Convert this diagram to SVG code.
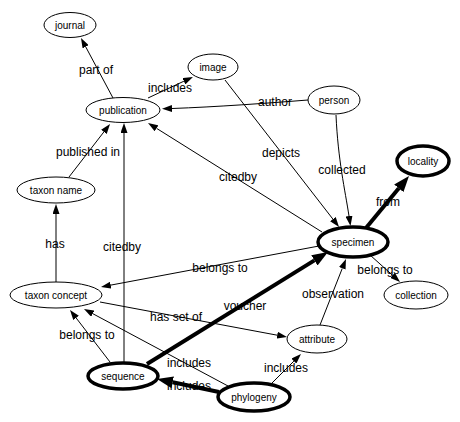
<svg xmlns="http://www.w3.org/2000/svg" width="460" height="422" viewBox="0 0 460 422">
<defs>
<marker id="a" markerUnits="userSpaceOnUse" markerWidth="10" markerHeight="7" refX="0" refY="3.5" orient="auto"><path d="M0,0 L10,3.5 L0,7 z" fill="#000"/></marker>
<marker id="b" markerUnits="userSpaceOnUse" markerWidth="16" markerHeight="12" refX="0" refY="6" orient="auto"><path d="M0,0 L16,6 L0,12 z" fill="#000"/></marker>
</defs>
<style>
.n ellipse{fill:#fff;stroke:#000;stroke-width:1}
.t ellipse{stroke-width:3.5}
.n text{font-family:"Liberation Sans",Arial,sans-serif;font-size:10px;text-anchor:middle;fill:#000}
.e path{fill:none;stroke:#000;stroke-width:1;marker-end:url(#a)}
.e path.k{stroke-width:4;marker-end:url(#b)}
.l text{font-family:"Liberation Sans",Arial,sans-serif;font-size:12px;text-anchor:middle;fill:#000}
</style>
<rect width="460" height="422" fill="#fff"/>
<g id="connectors" class="e">
<path d="M113,98 L85.7,46.8"/>
<path d="M148,98 L183.9,81.2"/>
<path d="M308,100 C270,103 215,107 172,108.5"/>
<path d="M225,80 L332.9,219.1"/>
<path d="M336,115 C338,160 345,190 349,216"/>
<path d="M322,232 L156.5,128.3"/>
<path class="k" d="M366,228 L398.8,188.3"/>
<path d="M370,255 L392.6,275.3"/>
<path d="M320,325 L342.3,268.3"/>
<path d="M69,177 L103.9,131.9"/>
<path d="M56,282 L56,214"/>
<path d="M124,363 L124,133"/>
<path d="M319,246 L110.8,285.1"/>
<path d="M100,302 L277.2,335.2"/>
<path class="k" d="M147,364 L314.4,260.4"/>
<path d="M110,362 L76.1,317.9"/>
<path d="M228,386 L92.8,313.7"/>
<path class="k" d="M219,392 L172.7,382.3"/>
<path d="M272,383 L293.9,361.1"/>
</g>
<g id="edge-labels" class="l">
<text x="96" y="74">part of</text>
<text x="170" y="92">includes</text>
<text x="275" y="106">author</text>
<text x="281" y="157">depicts</text>
<text x="342" y="174">collected</text>
<text x="238" y="181">citedby</text>
<text x="388" y="206">from</text>
<text x="385" y="274">belongs to</text>
<text x="333" y="298">observation</text>
<text x="88" y="156">published in</text>
<text x="55" y="248">has</text>
<text x="122" y="251">citedby</text>
<text x="220" y="272">belongs to</text>
<text x="176" y="321">has set of</text>
<text x="245" y="310">voucher</text>
<text x="87" y="339">belongs to</text>
<text x="189" y="367">includes</text>
<text x="189" y="390">includes</text>
<text x="286" y="372">includes</text>
</g>
<g id="journal" class="n"><ellipse cx="70" cy="25" rx="26" ry="12.5"/><text x="70" y="28.5">journal</text></g>
<g id="publication" class="n"><ellipse cx="123" cy="110" rx="37" ry="12.5"/><text x="123" y="113.5">publication</text></g>
<g id="image" class="n"><ellipse cx="213" cy="67" rx="25" ry="13"/><text x="213" y="70.5">image</text></g>
<g id="person" class="n"><ellipse cx="334" cy="100" rx="26" ry="14"/><text x="334" y="103.5">person</text></g>
<g id="locality" class="n t"><ellipse cx="423" cy="161" rx="26" ry="15"/><text x="423" y="164.5">locality</text></g>
<g id="specimen" class="n t"><ellipse cx="353" cy="242" rx="35" ry="15"/><text x="353" y="245.5">specimen</text></g>
<g id="collection" class="n"><ellipse cx="416" cy="295" rx="32" ry="14"/><text x="416" y="298.5">collection</text></g>
<g id="taxon-name" class="n"><ellipse cx="56" cy="190" rx="39" ry="13"/><text x="56" y="193.5">taxon name</text></g>
<g id="taxon-concept" class="n"><ellipse cx="56" cy="295" rx="46" ry="13"/><text x="56" y="298.5">taxon concept</text></g>
<g id="attribute" class="n"><ellipse cx="317" cy="339" rx="30" ry="14"/><text x="317" y="342.5">attribute</text></g>
<g id="sequence" class="n t"><ellipse cx="123" cy="376" rx="35" ry="13"/><text x="123" y="379.5">sequence</text></g>
<g id="phylogeny" class="n t"><ellipse cx="254" cy="397" rx="36" ry="14"/><text x="254" y="400.5">phylogeny</text></g>
</svg>
